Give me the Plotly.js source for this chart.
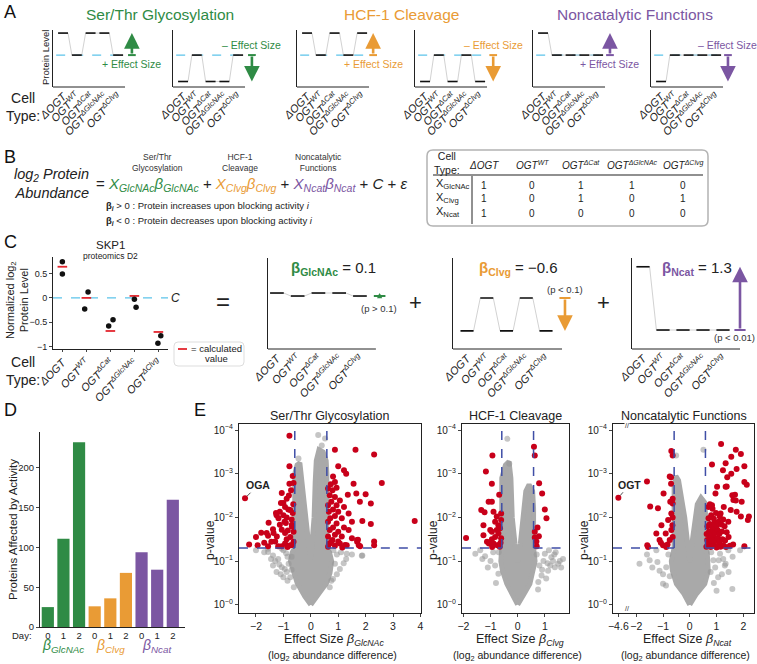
<!DOCTYPE html>
<html>
<head>
<meta charset="utf-8">
<script src="https://cdn.plot.ly/plotly-3.0.1.min.js"></script>
<style>body{margin:0;background:#fff}#fig{width:757px;height:664px}</style>
</head>
<body>
<div id="fig"></div>
<script>
'use strict';

const W = 757, H = 664;
const FONT = 'Liberation Sans, Arial, Helvetica, sans-serif';
const GREEN = '#2f8b45', ORANGE = '#e99b35', PURPLE = '#7b56a2';
const RED = '#c8001a', CALC = '#e3262e', SKY = '#5cc3ea', DASH = '#3f4ea6';

// cell types and the design matrix of panel B
const cellTypes = ['ΔOGT', 'OGT<sup>WT</sup>', 'OGT<sup>ΔCat</sup>', 'OGT<sup>ΔGlcNAc</sup>', 'OGT<sup>ΔClvg</sup>'];
const xGlcNAc = [1, 0, 1, 1, 0];
const xClvg = [1, 0, 1, 0, 1];
const xNcat = [1, 0, 0, 0, 0];

// panel C: SKP1 proteomics D2
const skp1Rep1 = [0.74, 0.12, -0.45, -0.03, -0.78];
const skp1Rep2 = [0.49, -0.23, -0.58, -0.19, -0.93];
const skp1Off1 = [0, 0.07, 0.11, 0.0, 0.1];
const skp1Off2 = [0, -0.07, -0.07, 0.07, -0.02];
const skp1Calc = [0.64, 0.0, -0.68, 0.04, -0.70];
const betaGlcNAc = 0.1, betaClvg = -0.6, betaNcat = 1.3;

// panel D: proteins affected by activity
const dayLabels = ['0', '1', '2', '0', '1', '2', '0', '1', '2'];
const affected = [25, 111, 232, 26, 36, 68, 94, 72, 160];
const activity = ['GlcNAc', 'GlcNAc', 'GlcNAc', 'Clvg', 'Clvg', 'Clvg', 'Ncat', 'Ncat', 'Ncat'];

// panel E: volcano plots, x = effect size, y = -log10(p)
const fcCut = 0.585, pCut = 1.3;
const ogaX = -2.40, ogaY = 2.44;
const ogtX = -4.6, ogtY = 2.45;

const e1Red = [[-0.78,3.87],[-0.78,3.17],[-0.66,2.95],[-0.78,2.77],[-0.63,2.79],[-0.72,2.62],[-1.06,2.56],[-0.88,2.43],[-1.09,2.33],[-1.0,2.33],[-0.64,2.30],[-0.94,2.24],[-0.75,2.17],[-0.82,2.18],[-1.13,2.13],[-0.66,2.10],[-1.27,2.10],[-1.25,2.05],[-0.88,2.0],[-0.70,1.95],[-1.18,1.98],[-0.96,1.90],[-0.91,1.87],[-1.54,1.88],[-0.69,1.83],[-1.13,1.83],[-0.69,1.79],[-1.38,1.73],[-1.06,1.72],[-0.84,1.70],[-1.81,1.65],[-1.61,1.64],[-1.36,1.64],[-0.94,1.64],[-0.63,1.67],[-1.56,1.58],[-1.24,1.56],[-2.0,1.55],[-0.75,1.55],[-0.88,1.50],[-1.30,1.45],[-1.44,1.44],[-0.63,1.44],[-1.70,1.42],[-0.94,1.40],[-1.94,1.36],[-1.56,1.34],[-1.19,1.34],[-0.75,1.36],[-0.67,1.37],[-1.06,1.34],[-2.25,1.38],[-0.85,1.32],[-1.0,2.05],[-0.8,2.5],[ogaX,ogaY],
  [0.88,3.55],[1.63,3.55],[2.31,3.44],[1.0,3.17],[1.21,3.08],[1.29,3.0],[0.81,2.94],[0.88,2.81],[0.73,2.76],[1.56,2.77],[2.59,2.79],[1.66,2.55],[1.35,2.52],[2.0,2.53],[1.79,2.36],[2.19,2.32],[1.88,1.92],[2.19,1.85],[3.79,1.92],[2.31,1.45],
  [0.63,2.66],[0.79,2.62],[0.94,2.68],[0.69,2.51],[0.88,2.47],[1.06,2.39],[0.75,2.36],[0.63,2.28],[0.94,2.28],[1.21,2.24],[0.81,2.18],[0.66,2.13],[1.0,2.13],[1.38,2.09],[0.88,2.03],[0.71,1.98],[1.13,1.98],[1.5,1.9],[0.63,1.9],[0.94,1.86],[0.81,1.77],[1.21,1.77],[0.69,1.71],[1.0,1.67],[1.38,1.71],[0.88,1.6],[0.63,1.56],[1.13,1.56],[0.79,1.48],[1.5,1.52],[1.0,1.45],[0.66,1.39],[1.25,1.37],[0.88,1.35],[1.69,1.48],
  [0.69,1.40],[1.06,1.40],[1.31,1.36],[1.69,1.44],[1.75,1.36],[2.31,1.36],[0.75,1.44],[0.63,1.33],[1.15,1.31],[1.8,1.34],[1.72,1.49]];
const e1Gray = [[-1.0,1.25],[-1.56,1.21],[-1.38,1.13],[-1.19,1.05],[-1.38,0.9],[-1.06,0.86],[-0.88,0.75],[-1.25,0.75],[-1.0,0.63],[-0.81,0.94],[-0.75,0.63],[-0.9,1.18],[-0.7,1.1],[-1.56,1.28],[-1.06,1.28],[-0.85,1.1],[-2.0,1.25],[-0.62,0.4],
  [-1.3,1.0],[-1.15,0.92],[-0.95,0.82],[-1.1,0.7],[-0.85,0.55],[-1.45,1.05],[-1.7,1.2],[-0.7,0.8],
  [1.31,1.17],[1.29,1.05],[0.88,0.94],[1.06,0.82],[0.81,0.59],[0.69,0.4],[1.88,1.13],[0.95,1.15],[0.82,1.25],[1.1,1.2],[1.86,1.12],
  [1.2,0.95],[0.95,0.7],[1.5,1.15],[0.75,0.55],
  [0.27,3.89],[0.52,3.81],[-0.45,3.35],[0.4,3.65]];
const e1CoreX = [0,-0.22,-0.5,-0.63,-0.74,-0.68,-0.585,-0.585,-0.5,-0.4,-0.36,-0.28,-0.18,-0.08,0,0.06,0.12,0.16,0.2,0.3,0.45,0.56,0.585,0.585,0.68,0.76,0.7,0.58,0.22,0];
const e1CoreY = [0,0.19,0.5,0.73,1.0,1.2,1.3,3.0,3.2,3.25,3.0,2.7,2.0,1.4,1.05,1.4,2.0,2.8,3.3,3.55,3.5,3.3,3.0,1.3,1.2,1.0,0.73,0.5,0.19,0];

const e2Red = [[-0.93,3.42],[-1.17,3.05],[-0.95,2.77],[-0.68,2.52],[-1.07,2.36],[-0.95,2.36],[-1.34,2.17],[-1.22,2.12],[-0.89,2.13],[-0.77,2.02],[-0.61,2.09],[-0.83,1.90],[-0.61,1.94],[-1.26,1.82],[-0.71,1.82],[-1.01,1.71],[-0.77,1.71],[-0.95,1.67],[-0.71,1.63],[-1.26,1.59],[-0.83,1.55],[-1.90,1.53],[-0.61,1.52],[-0.95,1.50],[-1.13,1.44],[-0.89,1.40],[-0.71,1.36],[-1.06,1.40],[-0.94,1.32],[-0.75,1.36],[-0.63,1.42],[-0.65,1.75],[-0.66,1.33],
  [0.6,3.62],[0.63,3.42],[0.79,2.78],[0.90,2.55],[1.0,2.18],[1.06,1.98],[0.73,1.77],[0.63,1.67],[0.78,1.57],[0.63,1.54],[0.70,1.34],[0.69,1.45]];
const e2Gray = [[1.0,1.17],[1.24,1.09],[1.37,0.86],[1.49,0.94],[1.12,0.78],[0.88,0.67],[1.67,1.05],[0.76,0.52],[1.15,1.25],[1.3,1.0],[0.95,1.0],[1.6,0.85],[1.4,1.2],[0.8,0.9],[1.05,0.6],[0.7,1.15],
  [1.2,0.9],[1.35,1.15],[1.55,1.0],[0.9,0.8],[1.1,0.95],[0.75,0.35],
  [-1.56,1.17],[-1.38,1.25],[-1.2,1.11],[-0.83,0.9],[-0.71,0.71],[-1.0,1.0],[-0.9,1.2],[-0.7,1.2],[-1.1,0.85],[-0.8,0.5],[-1.3,1.05],
  [-0.38,3.8],[-0.31,3.23]];
const e2CoreX = [0,-0.22,-0.4,-0.56,-0.62,-0.585,-0.585,-0.45,-0.32,-0.25,-0.2,-0.1,0,0.1,0.2,0.3,0.42,0.55,0.585,0.585,0.64,0.57,0.45,0.24,0];
const e2CoreY = [0,0.25,0.48,0.78,1.0,1.3,2.9,3.2,3.28,2.9,2.0,1.4,0.98,1.4,2.0,2.6,2.75,2.6,2.2,1.3,1.0,0.78,0.48,0.25,0];

const e3Red = [[-0.69,3.52],[-0.64,3.42],[-1.6,2.82],[-0.75,2.94],[-0.70,2.92],[-0.7,2.77],[-0.98,2.55],[-0.64,2.43],[-0.73,2.36],[-1.48,2.25],[-1.19,2.21],[-0.64,2.32],[-0.69,2.09],[-0.81,1.94],[-1.06,1.82],[-0.65,1.82],[-0.69,1.71],[-1.25,1.63],[-0.9,1.63],[-0.75,1.48],[-1.13,1.48],[-1.0,1.36],[-1.56,1.32],[-0.88,1.32],[-1.59,1.36],[-1.08,1.42],[-0.83,1.38],[-0.64,1.55],[-0.64,2.0],[ogtX,ogtY],
  [1.17,3.68],[1.72,3.55],[1.91,3.45],[1.55,3.39],[1.34,3.24],[0.83,3.21],[2.04,3.17],[1.24,3.08],[1.75,3.11],[1.55,3.0],[1.4,2.92],[2.04,2.81],[1.34,2.7],[1.02,2.7],[0.96,2.55],[1.59,2.51],[1.72,2.39],[0.83,2.28],[1.27,2.24],[1.53,2.17],[1.91,2.02],[1.15,2.09],[2.17,1.94],[0.7,2.24],[1.94,2.36],[1.44,1.9],[1.75,2.13],[2.21,2.02],[1.63,2.4],[1.38,2.71],[1.69,2.52],[2.13,2.75],
  [0.62,1.33],[0.70,1.38],[0.78,1.32],[0.85,1.40],[0.92,1.35],[1.0,1.31],[1.08,1.37],[1.15,1.33],[1.25,1.36],[1.35,1.32],[1.5,1.35],[1.62,1.38],
  [0.65,1.48],[0.74,1.52],[0.82,1.46],[0.90,1.55],[0.98,1.47],[1.05,1.52],[1.12,1.45],[1.22,1.50],[1.32,1.47],[1.45,1.55],
  [0.63,1.62],[0.72,1.68],[0.80,1.60],[0.88,1.70],[0.95,1.64],[1.03,1.72],[1.10,1.62],[1.20,1.68],[1.38,1.66],
  [0.66,1.80],[0.75,1.85],[0.84,1.78],[0.93,1.88],[1.0,1.82],[1.08,1.90],[1.18,1.84],[1.30,1.80],
  [0.70,1.98],[0.80,2.05],[0.90,1.97],[0.98,2.10],[1.12,2.02],[1.25,1.95],[0.85,2.2],[0.75,2.3],[2.04,1.34]];
const e3Gray = [[-1.88,0.94],[-1.25,1.25],[-1.5,1.02],[-1.13,0.78],[-0.88,0.86],[-1.0,0.48],[-0.89,0.44],[-1.21,0.98],[-0.8,1.15],[-0.75,0.65],
  [-1.4,0.85],[-1.0,0.7],[-1.6,1.15],
  [0.88,1.02],[1.13,1.17],[1.31,0.9],[1.06,0.63],[1.44,1.25],[1.0,0.32],[1.88,1.25],[1.59,0.36],[1.34,0.94],[1.08,1.02],[0.8,1.2],[0.78,0.75],[1.2,0.7],
  [0.95,0.85],[1.25,1.05],[1.6,1.1],[0.9,0.5],[1.45,0.75],
  [-0.51,3.42],[0.51,3.55]];
const e3CoreX = [0,-0.22,-0.5,-0.65,-0.69,-0.62,-0.585,-0.585,-0.52,-0.42,-0.3,-0.19,-0.08,0,0.08,0.19,0.28,0.42,0.55,0.585,0.585,0.65,0.69,0.69,0.56,0.25,0];
const e3CoreY = [0,0.25,0.48,0.78,1.0,1.2,1.3,2.7,2.95,2.85,2.4,2.0,1.4,0.98,1.4,2.0,2.3,2.45,2.35,2.1,1.3,1.2,1.0,0.78,0.48,0.25,0];

// broken x axis of the noncatalytic volcano
const breakAt = -2.5, breakPos = -2.67;
function brk(x) { return x < breakAt ? breakPos : x; }

const traces = [];
const annotations = [];
const shapes = [];
const layout = {
  width: W, height: H,
  margin: {l: 0, r: 0, t: 0, b: 0},
  showlegend: false,
  paper_bgcolor: '#fff', plot_bgcolor: 'rgba(0,0,0,0)',
  font: {family: FONT, color: '#222', size: 10},
  annotations, shapes
};

function id(n) { return n === 1 ? '' : String(n); }
function px(x) { return x / W; }
function py(y) { return 1 - y / H; }

function ann(text, x, y, size, color, extra) {
  return Object.assign({
    text, x: px(x), y: py(y), xref: 'paper', yref: 'paper', showarrow: false,
    font: {family: FONT, size: size || 10, color: color || '#222'},
    xanchor: 'center', yanchor: 'middle'
  }, extra || {});
}

function setAxes(n, left, right, top, bottom, xr, yr, xExtra, yExtra) {
  layout['xaxis' + id(n)] = Object.assign({
    domain: [px(left), px(right)], range: xr, anchor: 'y' + id(n),
    showgrid: false, zeroline: false, showline: true, linecolor: '#222', linewidth: 1,
    ticks: '', showticklabels: false, fixedrange: true
  }, xExtra || {});
  layout['yaxis' + id(n)] = Object.assign({
    domain: [py(bottom), py(top)], range: yr, anchor: 'x' + id(n),
    showgrid: false, zeroline: false, showline: true, linecolor: '#222', linewidth: 1,
    ticks: '', showticklabels: false, fixedrange: true
  }, yExtra || {});
}

const cellTick = cellTypes.map(t => '<i>' + t + '</i>');
function cellAxis(extra) {
  return Object.assign({
    tickmode: 'array', tickvals: [0, 1, 2, 3, 4], ticktext: cellTick, showline: false,
    showticklabels: true, tickangle: -45, tickfont: {family: FONT, size: 11, color: '#222'}
  }, extra || {});
}

// schematic panels: x axis line drawn only under the five cell types
function baseAxisLine(n, x0, x1) {
  shapes.push({type: 'line', xref: 'x' + id(n), yref: 'y' + id(n) + ' domain', x0, x1, y0: 0, y1: 0,
    line: {color: '#222', width: 1}});
}

function stepTraces(levels, n, half) {
  const cx = [], cy = [], sx = [], sy = [];
  levels.forEach((v, i) => {
    cx.push(i - half, i + half); cy.push(v, v);
    sx.push(i - half, i + half, null); sy.push(v, v, null);
  });
  traces.push({type: 'scatter', mode: 'lines', x: cx, y: cy, xaxis: 'x' + id(n), yaxis: 'y' + id(n),
    line: {color: '#d2d2d2', width: 1}, hoverinfo: 'skip'});
  traces.push({type: 'scatter', mode: 'lines', x: sx, y: sy, xaxis: 'x' + id(n), yaxis: 'y' + id(n),
    line: {color: '#111', width: 1.6}, hoverinfo: 'skip'});
}

function effectArrow(n, x, head, color, size) {
  const xr = 'x' + id(n), yr = 'y' + id(n);
  shapes.push({type: 'line', xref: xr, yref: yr, x0: x - 0.28, x1: x + 0.28, y0: 0, y1: 0,
    line: {color, width: 2}});
  annotations.push({x, y: head, ax: x, ay: 0, xref: xr, yref: yr, axref: xr, ayref: yr,
    text: '', showarrow: true, arrowhead: 2, arrowsize: size || 1.1, arrowwidth: 2.6,
    arrowcolor: color, standoff: 0});
}

// ---------- panel A ----------
const aLeft = [53, 173, 297, 415, 533, 651];
const aDesign = [xGlcNAc, xGlcNAc, xClvg, xClvg, xNcat, xNcat];
const aEffect = [1, -1.2, 1, -1.2, 1, -1.2];
const aColor = [GREEN, GREEN, ORANGE, ORANGE, PURPLE, PURPLE];
const aArrowX = [5.0, 5.0, 4.8, 4.95, 4.86, 4.86];
const aUnit = 13.77, aRange = [-0.73, 5.45];
aLeft.forEach((left, k) => {
  const n = k + 1;
  setAxes(n, left, left + (aRange[1] - aRange[0]) * aUnit, 30, 87, aRange, [-1.45, 1.14], cellAxis());
  baseAxisLine(n, aRange[0], 4.5);
  shapes.push({type: 'line', xref: 'x' + id(n), yref: 'y' + id(n), x0: -0.5, x1: 4.5, y0: 0, y1: 0,
    line: {color: SKY, width: 1.3, dash: 'dash'}, layer: 'below'});
  stepTraces(aDesign[k].map(v => v * aEffect[k]), n, 0.36);
  effectArrow(n, aArrowX[k], aEffect[k], aColor[k], 1.2);
  const up = aEffect[k] > 0;
  annotations.push({x: aArrowX[k], y: 0, xref: 'x' + id(n), yref: 'y' + id(n), showarrow: false,
    text: up ? '+ Effect Size' : '– Effect Size', yshift: up ? -9 : 10,
    font: {family: FONT, size: 10.5, color: aColor[k]}});
});
annotations.push(ann('Protein Level', 46, 58, 9.5, '#222', {textangle: -90}));
annotations.push(ann('Ser/Thr Glycosylation', 160, 14, 15.5, GREEN));
annotations.push(ann('HCF-1 Cleavage', 401, 14, 15.5, ORANGE));
annotations.push(ann('Noncatalytic Functions', 635, 14, 15.5, PURPLE));
annotations.push(ann('Cell<br>Type:', 23, 107, 14));
annotations.push(ann('A', 10, 12, 18, '#111'));

// ---------- panel B ----------
annotations.push(ann('B', 10, 157, 18, '#111'));
annotations.push(ann('Ser/Thr<br>Glycosylation', 157, 163, 8.5, '#333'));
annotations.push(ann('HCF-1<br>Cleavage', 240, 163, 8.5, '#333'));
annotations.push(ann('Noncatalytic<br>Functions', 318, 163, 8.5, '#333'));
annotations.push(ann('<i>log<sub>2</sub> Protein<br>Abundance</i>', 91, 183, 14.5, '#222',
  {xanchor: 'right', align: 'right'}));
const eq = '= <i><span style="color:' + GREEN + '">X<sub>GlcNAc</sub>β<sub>GlcNAc</sub></span></i>' +
  ' + <i><span style="color:' + ORANGE + '">X<sub>Clvg</sub>β<sub>Clvg</sub></span></i>' +
  ' + <i><span style="color:' + PURPLE + '">X<sub>Ncat</sub>β<sub>Ncat</sub></span></i> + <i>C</i> + <i>ε</i>';
annotations.push(ann(eq, 94, 184, 15, '#222', {xanchor: 'left'}));
annotations.push(ann('<b>β<sub><i>i</i></sub></b> > 0 : Protein increases upon blocking activity <i>i</i>', 104, 206, 9.5, '#222', {xanchor: 'left'}));
annotations.push(ann('<b>β<sub><i>i</i></sub></b> < 0 : Protein decreases upon blocking activity <i>i</i>', 104, 221, 9.5, '#222', {xanchor: 'left'}));

function rrect(x0, y0, x1, y1, r) {
  const X = px, Y = py;
  return `M${X(x0 + r)},${Y(y0)} L${X(x1 - r)},${Y(y0)} Q${X(x1)},${Y(y0)} ${X(x1)},${Y(y0 + r)} ` +
    `L${X(x1)},${Y(y1 - r)} Q${X(x1)},${Y(y1)} ${X(x1 - r)},${Y(y1)} L${X(x0 + r)},${Y(y1)} ` +
    `Q${X(x0)},${Y(y1)} ${X(x0)},${Y(y1 - r)} L${X(x0)},${Y(y0 + r)} Q${X(x0)},${Y(y0)} ${X(x0 + r)},${Y(y0)} Z`;
}
shapes.push({type: 'path', xref: 'paper', yref: 'paper', path: rrect(427, 150, 708, 226, 6),
  line: {color: '#b3b3b3', width: 1.5}});
shapes.push({type: 'line', xref: 'paper', yref: 'paper', x0: px(433), x1: px(703), y0: py(175), y1: py(175),
  line: {color: '#222', width: 1.2}});
shapes.push({type: 'line', xref: 'paper', yref: 'paper', x0: px(472), x1: px(472), y0: py(176), y1: py(224),
  line: {color: '#222', width: 1}});
const tableCols = [484, 532, 581, 632, 683];
annotations.push(ann('Cell<br>Type:', 447, 163, 10.5));
cellTypes.forEach((t, i) => annotations.push(ann('<i>' + t + '</i>', tableCols[i], 165, 10)));
const tableRows = [['X<sub>GlcNAc</sub>', xGlcNAc], ['X<sub>Clvg</sub>', xClvg], ['X<sub>Ncat</sub>', xNcat]];
tableRows.forEach((row, r) => {
  const y = 184 + r * 14;
  annotations.push(ann(row[0], 434, y, 11, '#222', {xanchor: 'left'}));
  row[1].forEach((v, i) => annotations.push(ann(String(v), tableCols[i], y + 1, 10)));
});

// ---------- panel C ----------
annotations.push(ann('C', 10, 242, 18, '#111'));
setAxes(7, 53, 168, 257, 349, [-0.39, 4.4], [-1.05, 0.84],
  cellAxis({ticks: 'outside', ticklen: 2, showline: true}),
  {ticks: 'outside', ticklen: 3, showticklabels: true, tickmode: 'array',
   tickvals: [-1, -0.5, 0, 0.5], ticktext: ['−1', '−0.5', '0', '0.5'],
   tickfont: {family: FONT, size: 9, color: '#222'}});
shapes.push({type: 'line', xref: 'x7', yref: 'y7', x0: -0.39, x1: 4.4, y0: 0, y1: 0,
  line: {color: SKY, width: 1.3, dash: 'dash'}, layer: 'below'});
const calcX = [], calcY = [];
skp1Calc.forEach((v, i) => { calcX.push(i - 0.2, i + 0.2, null); calcY.push(v, v, null); });
traces.push({type: 'scatter', mode: 'lines', x: calcX, y: calcY, xaxis: 'x7', yaxis: 'y7',
  line: {color: CALC, width: 1.8}, hoverinfo: 'skip'});
traces.push({type: 'scatter', mode: 'markers',
  x: skp1Rep1.map((v, i) => i + skp1Off1[i]).concat(skp1Rep2.map((v, i) => i + skp1Off2[i])),
  y: skp1Rep1.concat(skp1Rep2), xaxis: 'x7', yaxis: 'y7',
  marker: {color: '#111', size: 5.5}, hoverinfo: 'skip'});
annotations.push(ann('<i>C</i>', 175, 298, 12));
annotations.push(ann('SKP1', 110, 245, 11.5));
annotations.push(ann('proteomics D2', 110, 256, 8.5));
annotations.push(ann('Normalized log<sub>2</sub><br>Protein Level', 17, 300, 11, '#222', {textangle: -90}));
annotations.push(ann('Cell<br>Type:', 23, 371, 14));
shapes.push({type: 'path', xref: 'paper', yref: 'paper', path: rrect(174, 342, 244, 366, 4),
  line: {color: '#dddddd', width: 1}});
shapes.push({type: 'line', xref: 'paper', yref: 'paper', x0: px(178), x1: px(187), y0: py(349), y1: py(349),
  line: {color: CALC, width: 1.8}});
annotations.push(ann('= calculated', 217, 348.5, 9.5));
annotations.push(ann('value', 216, 359, 9.5));
annotations.push(ann('=', 223, 301, 24));
annotations.push(ann('+', 415, 302, 22));
annotations.push(ann('+', 603, 302, 22));

const cModels = [
  {n: 8, left: 268, unit: 20.75, xr: [-0.43, 5.4], end: 4.77, yr: [-1.77, 1.27], design: xGlcNAc, beta: betaGlcNAc, color: GREEN, arrowX: 4.95},
  {n: 9, left: 453, unit: 19.75, xr: [-0.71, 5.4], end: 4.81, yr: [-0.93, 0.73], design: xClvg, beta: betaClvg, color: ORANGE, arrowX: 4.96},
  {n: 10, left: 632, unit: 20, xr: [-0.55, 5.3], end: 4.85, yr: [-0.39, 1.48], design: xNcat, beta: betaNcat, color: PURPLE, arrowX: 4.85}
];
cModels.forEach(m => {
  setAxes(m.n, m.left, m.left + (m.xr[1] - m.xr[0]) * m.unit, 258, 349, m.xr, m.yr, cellAxis());
  baseAxisLine(m.n, m.xr[0], m.end);
  stepTraces(m.design.map(v => v * m.beta), m.n, 0.33);
  effectArrow(m.n, m.arrowX, m.beta, m.color, Math.abs(m.beta) < 0.3 ? 0.4 : 1.2);
});
annotations.push(ann('<span style="color:' + GREEN + '"><b>β<sub>GlcNAc</sub></b></span> = 0.1', 333, 268, 15));
annotations.push(ann('<span style="color:' + ORANGE + '"><b>β<sub>Clvg</sub></b></span> = −0.6', 518, 268, 15));
annotations.push(ann('<span style="color:' + PURPLE + '"><b>β<sub>Ncat</sub></b></span> = 1.3', 697, 268, 15));
annotations.push(ann('(p > 0.1)', 379, 308, 9.5, '#333'));
annotations.push(ann('(p < 0.1)', 565, 289, 9.5, '#333'));
annotations.push(ann('(p < 0.01)', 734, 337, 9.5, '#333'));

// ---------- panel D ----------
annotations.push(ann('D', 10, 410, 18, '#111'));
const actColor = {GlcNAc: GREEN, Clvg: ORANGE, Ncat: PURPLE};
setAxes(11, 40, 185, 432, 627, [-0.5, 8.78], [0, 245],
  {showticklabels: true, tickmode: 'array', tickvals: dayLabels.map((d, i) => i), ticktext: dayLabels,
   tickfont: {family: FONT, size: 9.5, color: '#222'}},
  {showticklabels: true, ticks: 'outside', ticklen: 3, tickvals: [0, 50, 100, 150, 200], tickmode: 'array',
   tickfont: {family: FONT, size: 9.5, color: '#222'}});
traces.push({type: 'bar', x: affected.map((v, i) => i), y: affected, xaxis: 'x11', yaxis: 'y11',
  width: 0.78, marker: {color: activity.map(a => actColor[a]), line: {width: 0}}, hoverinfo: 'skip'});
annotations.push(ann('Day:', 34, 635, 9.5, '#222', {xanchor: 'right'}));
annotations.push(ann('Proteins Affected by Activity', 13, 530, 11.5, '#222', {textangle: -90}));
[['GlcNAc', 1], ['Clvg', 4], ['Ncat', 7]].forEach(([a, pos]) => {
  annotations.push({x: pos, y: py(657), xref: 'x11', yref: 'paper', showarrow: false,
    text: '<i>β<sub>' + a + '</sub></i>', font: {family: FONT, size: 14, color: actColor[a]}});
});

// ---------- panel E ----------
annotations.push(ann('E', 200, 410, 18, '#111'));
const eLeft = [239, 462, 613], eRight = [421, 569, 754];
const eRange = [[-2.62, 4.02], [-2.05, 1.89], [-2.87, 2.4]];
const eTickVals = [[-2, -1, 0, 1, 2, 3, 4], [-2, -1, 0, 1], [breakPos, -2, -1, 0, 1, 2]];
const eTickText = [['−2', '−1', '0', '1', '2', '3', '4'], ['−2', '−1', '0', '1'], ['−4.6', '−2', '−1', '0', '1', '2']];
const eTitles = ['Ser/Thr Glycosylation', 'HCF-1 Cleavage', 'Noncatalytic Functions'];
const eSubs = ['GlcNAc', 'Clvg', 'Ncat'];
const eRed = [e1Red, e2Red, e3Red];
const eGray = [e1Gray, e2Gray, e3Gray];
const eCoreX = [e1CoreX, e2CoreX, e3CoreX];
const eCoreY = [e1CoreY, e2CoreY, e3CoreY];
const eYTop = 4.14, eYBot = -0.19;
eLeft.forEach((left, k) => {
  const n = 12 + k, xa = 'x' + n, ya = 'y' + n;
  const xr = eRange[k];
  setAxes(n, left, eRight[k], 424, 613, xr, [eYBot, eYTop],
    {showticklabels: true, ticks: 'outside', ticklen: 3, tickmode: 'array', tickvals: eTickVals[k], ticktext: eTickText[k],
     tickangle: 0, mirror: true, linewidth: 1.2, tickfont: {family: FONT, size: 10.5, color: '#222'}},
    {showticklabels: true, ticks: 'outside', ticklen: 3, tickmode: 'array', tickvals: [0, 1, 2, 3, 4],
     ticktext: ['10<sup>−0</sup>', '10<sup>−1</sup>', '10<sup>−2</sup>', '10<sup>−3</sup>', '10<sup>−4</sup>'],
     tickangle: 0, mirror: true, linewidth: 1.2, tickfont: {family: FONT, size: 10, color: '#222'}});
  traces.push({type: 'scatter', mode: 'lines', x: eCoreX[k], y: eCoreY[k], xaxis: xa, yaxis: ya,
    fill: 'toself', fillcolor: '#a9a9a9', line: {color: '#a9a9a9', width: 5}, hoverinfo: 'skip'});
  traces.push({type: 'scatter', mode: 'markers', x: eGray[k].map(p => p[0]), y: eGray[k].map(p => p[1]),
    xaxis: xa, yaxis: ya, marker: {color: 'rgba(150,150,150,0.55)', size: 6}, hoverinfo: 'skip'});
  traces.push({type: 'scatter', mode: 'markers', x: eRed[k].map(p => brk(p[0])), y: eRed[k].map(p => p[1]),
    xaxis: xa, yaxis: ya, marker: {color: RED, size: 6}, hoverinfo: 'skip'});
  const dl = {color: DASH, width: 1.5, dash: 'dash'};
  shapes.push({type: 'line', xref: xa, yref: ya, x0: xr[0], x1: -fcCut, y0: pCut, y1: pCut, line: dl});
  shapes.push({type: 'line', xref: xa, yref: ya, x0: fcCut, x1: xr[1], y0: pCut, y1: pCut, line: dl});
  shapes.push({type: 'line', xref: xa, yref: ya, x0: -fcCut, x1: -fcCut, y0: pCut, y1: eYTop, line: dl});
  shapes.push({type: 'line', xref: xa, yref: ya, x0: fcCut, x1: fcCut, y0: pCut, y1: eYTop, line: dl});
  const cx = (left + eRight[k]) / 2;
  annotations.push(ann(eTitles[k], cx, 416, 12.5));
  annotations.push(ann('Effect Size <i>β<sub>' + eSubs[k] + '</sub></i>', cx + 4, 640, 12.5));
  annotations.push(ann('(log<sub>2</sub> abundance difference)', cx + 2, 656, 10.5));
  annotations.push(ann('p-value', left - 29, 540, 12, '#222', {textangle: -90}));
});
annotations.push({x: ogaX, y: ogaY, xref: 'x12', yref: 'y12', ax: 13, ay: -13, text: '<b>OGA</b>',
  showarrow: true, arrowhead: 0, arrowwidth: 0.8, arrowcolor: '#222', standoff: 3,
  font: {family: FONT, size: 10.5, color: '#222'}});
annotations.push({x: brk(ogtX), y: ogtY, xref: 'x14', yref: 'y14', ax: 11, ay: -13, text: '<b>OGT</b>',
  showarrow: true, arrowhead: 0, arrowwidth: 0.8, arrowcolor: '#222', standoff: 3,
  font: {family: FONT, size: 10.5, color: '#222'}});
[425, 613].forEach(yy => {
  annotations.push({x: -2.36, y: py(yy), xref: 'x14', yref: 'paper', showarrow: false, text: '//',
    bgcolor: '#fff', borderpad: 0, font: {family: FONT, size: 7, color: '#222'}});
});

Plotly.newPlot('fig', traces, layout, {staticPlot: true});
</script>
</body>
</html>
